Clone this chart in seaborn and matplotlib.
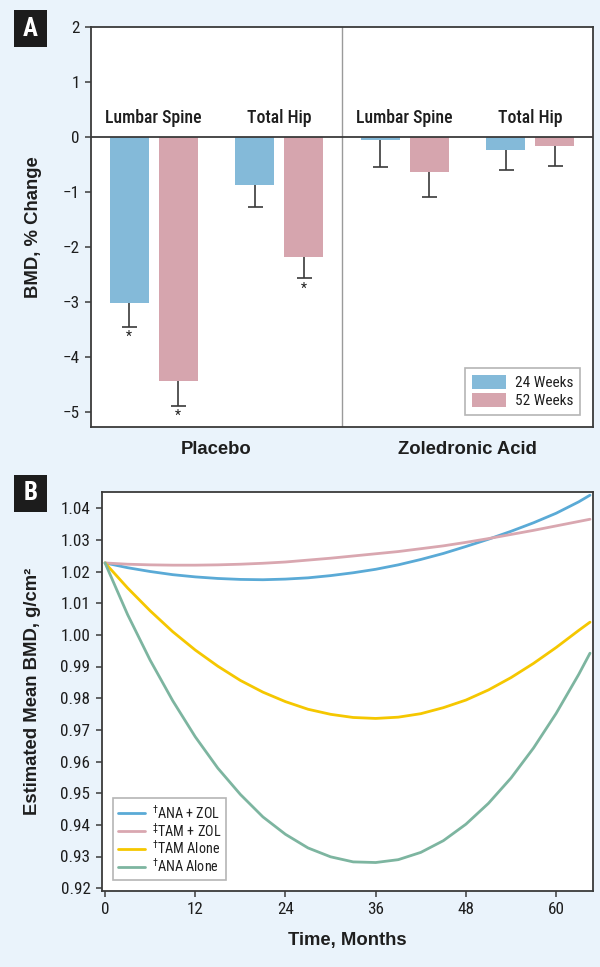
import numpy as np
import pandas as pd
import matplotlib
matplotlib.use("Agg")
import matplotlib.pyplot as plt
from matplotlib import font_manager as fm
from matplotlib.patches import Rectangle
import seaborn as sns

# ---------------- data: panel A ----------------
bar_keys = ["P-LS", "P-TH", "Z-LS", "Z-TH"]
sites = ["Lumbar Spine", "Total Hip", "Lumbar Spine", "Total Hip"]
groups = ["Placebo", "Zoledronic Acid"]
weeks = ["24 Weeks", "52 Weeks"]
change_24 = [-3.02, -0.87, -0.05, -0.24]
change_52 = [-4.44, -2.18, -0.64, -0.16]
err_24 = [0.43, 0.40, 0.50, 0.36]
err_52 = [0.44, 0.38, 0.45, 0.37]
sig_24 = [True, False, False, False]
sig_52 = [True, True, False, False]
yticks_A = [2, 1, 0, -1, -2, -3, -4, -5]

# ---------------- data: panel B ----------------
months = [0, 3, 6, 9, 12, 15, 18, 21, 24, 27, 30, 33, 36, 39, 42, 45, 48, 51, 54, 57, 60, 63, 64.5]
ana_zol = [1.0227, 1.0212, 1.0200, 1.0190, 1.0183, 1.0178, 1.0175, 1.0174, 1.0176, 1.0180, 1.0187, 1.0196,
           1.0207, 1.0221, 1.0238, 1.0257, 1.0279, 1.0302, 1.0327, 1.0354, 1.0384, 1.0420, 1.0441]
tam_zol = [1.0227, 1.0223, 1.0221, 1.0220, 1.0220, 1.0221, 1.0223, 1.0226, 1.0230, 1.0236, 1.0242, 1.0249,
           1.0256, 1.0263, 1.0272, 1.0281, 1.0292, 1.0304, 1.0317, 1.0330, 1.0344, 1.0358, 1.0365]
tam_alone = [1.0227, 1.0148, 1.0076, 1.0010, 0.9952, 0.9901, 0.9856, 0.9819, 0.9789, 0.9765, 0.9749, 0.9739,
             0.9736, 0.9740, 0.9751, 0.9770, 0.9794, 0.9826, 0.9865, 0.9910, 0.9960, 1.0014, 1.0040]
ana_alone = [1.0227, 1.0064, 0.9920, 0.9792, 0.9678, 0.9579, 0.9496, 0.9425, 0.9370, 0.9327, 0.9299, 0.9283,
             0.9281, 0.9290, 0.9313, 0.9350, 0.9402, 0.9468, 0.9548, 0.9643, 0.9752, 0.9875, 0.9942]
line_labels = [r"$^{\dagger}$ANA + ZOL", r"$^{\ddagger}$TAM + ZOL", r"$^{\dagger}$TAM Alone", r"$^{\dagger}$ANA Alone"]
xticks_B = [0, 12, 24, 36, 48, 60]
yticks_B = [0.92, 0.93, 0.94, 0.95, 0.96, 0.97, 0.98, 0.99, 1.00, 1.01, 1.02, 1.03, 1.04]

# ---------------- style ----------------
BG = "#eaf3fb"
BAR_BLUE = "#84bad9"
BAR_PINK = "#d6a5ae"
LINE_COLORS = ["#5aaad6", "#d9a7b0", "#f5c700", "#7db5a0"]
SPINE = "#3a3a3a"
TXT = "#1e1e1e"

sns.set_style("ticks")

# pick a condensed sans-serif if one is installed
_fonts = fm.fontManager.ttflist
_names = {f.name for f in _fonts}
family, stretch = None, "normal"
for n in ["Liberation Sans Narrow", "Roboto Condensed", "Noto Sans Condensed",
          "Open Sans Condensed", "Arial Narrow"]:
    if n in _names:
        family = [n, "DejaVu Sans"]
        break
if family is None:
    cond = sorted({f.name for f in _fonts if ("Condensed" in f.name or "Narrow" in f.name)
                   and "Mono" not in f.name and "Serif" not in f.name})
    if cond:
        family = [cond[0], "DejaVu Sans"]
if family is None:
    if any(f.name == "DejaVu Sans" and f.stretch in ("condensed", "semi-condensed") for f in _fonts):
        family, stretch = ["DejaVu Sans"], "condensed"
    else:
        family = ["Roboto", "DejaVu Sans"]

BOLD_FAMILY = ["Liberation Sans", "DejaVu Sans"]

plt.rcParams["font.family"] = family
plt.rcParams["font.stretch"] = stretch
plt.rcParams["mathtext.default"] = "regular"
plt.rcParams["text.color"] = TXT
plt.rcParams["axes.labelcolor"] = TXT

fig = plt.figure(figsize=(6, 9.67), dpi=100)
fig.patch.set_facecolor(BG)

axA = fig.add_axes([91 / 600, 1 - 427 / 967, 502 / 600, 400 / 967])
axB = fig.add_axes([101.5 / 600, 1 - 890.7 / 967, 491.5 / 600, 399 / 967])

BOLD = dict(fontsize=13.3, fontweight="bold", family=BOLD_FAMILY)


def style_axes(ax):
    ax.set_facecolor("white")
    for sp in ax.spines.values():
        sp.set_visible(True)
        sp.set_color(SPINE)
        sp.set_linewidth(1.3)
    ax.tick_params(direction="out", length=4.5, width=1.1, color=SPINE,
                   labelsize=12.3, labelcolor=TXT)


# ---------------- panel A ----------------
dfA = pd.DataFrame({
    "key": bar_keys * 2,
    "change": change_24 + change_52,
    "week": [weeks[0]] * 4 + [weeks[1]] * 4,
})
sns.barplot(data=dfA, x="key", y="change", hue="week", order=bar_keys, hue_order=weeks,
            palette=[BAR_BLUE, BAR_PINK], width=0.78, gap=0.205, errorbar=None,
            saturation=1, linewidth=0, ax=axA)
style_axes(axA)

for cont, errs, sigs in zip(axA.containers, [err_24, err_52], [sig_24, sig_52]):
    for bar, e, s in zip(cont, errs, sigs):
        xc = bar.get_x() + bar.get_width() / 2
        val = bar.get_y() + bar.get_height()
        _, caps, _ = axA.errorbar(xc, val, yerr=[[e], [0]], fmt="none", ecolor=SPINE,
                                  elinewidth=1.2, capsize=5.4, capthick=1.2, zorder=3)
        if len(caps) > 1:
            caps[1].set_visible(False)
        if s:
            axA.text(xc, val - e - 0.19, "*", ha="center", va="center", fontsize=10, color=TXT)

for i, s in enumerate(sites):
    axA.text(i, 0.35, s, ha="center", va="center", fontsize=12.8, fontweight="medium", color=TXT)

axA.axhline(0, color=SPINE, lw=1.3, zorder=4)
axA.axvline(1.5, color="#9a9a9a", lw=1.0)
axA.set_xlim(-0.5, 3.5)
axA.set_ylim(-5.27, 2)
axA.set_yticks(yticks_A)
axA.set_xticks([0.5, 2.5])
axA.set_xticklabels(groups, **BOLD)
axA.tick_params(axis="x", length=0, pad=10)
axA.set_xlabel("")
axA.set_ylabel("BMD, % Change", **BOLD)
axA.yaxis.set_label_coords(-0.098, 0.5)
axA.legend(loc="lower right", bbox_to_anchor=(0.974, 0.03), borderaxespad=0,
           frameon=True, fancybox=False, edgecolor="#b5b5b5", framealpha=1,
           fontsize=11, handlelength=2.2, handleheight=1.0, borderpad=0.45,
           labelspacing=0.2, handletextpad=0.6).get_frame().set_linewidth(1.2)

# ---------------- panel B ----------------
dfB = pd.DataFrame({
    "month": months * 4,
    "bmd": ana_zol + tam_zol + tam_alone + ana_alone,
    "group": sum([[lab] * len(months) for lab in line_labels], []),
})
sns.lineplot(data=dfB, x="month", y="bmd", hue="group", hue_order=line_labels,
             palette=LINE_COLORS, linewidth=2.0, ax=axB)
style_axes(axB)
axB.set_xlim(-0.47, 64.9)
axB.set_ylim(0.9192, 1.0452)
axB.set_xticks(xticks_B)
axB.set_yticks(yticks_B)
axB.set_yticklabels([f"{v:.2f}" for v in yticks_B])
axB.set_xlabel("Time, Months", labelpad=11, **BOLD)
axB.set_ylabel("Estimated Mean BMD, g/cm²", **BOLD)
axB.yaxis.set_label_coords(-0.124, 0.5)
h, l = axB.get_legend_handles_labels()
axB.legend(h, l, loc="lower left", bbox_to_anchor=(0.0234, 0.0268), borderaxespad=0,
           frameon=True, fancybox=False, edgecolor="#b5b5b5", framealpha=1,
           fontsize=10.2, handlelength=1.9, labelspacing=0.0, borderpad=0.35,
           handletextpad=0.5).get_frame().set_linewidth(1.2)


# ---------------- panel letters ----------------
def panel_label(x0, y0, letter):
    fig.add_artist(Rectangle((x0 / 600, 1 - (y0 + 37) / 967), 33 / 600, 37 / 967,
                             transform=fig.transFigure, facecolor="#1c1c1c", edgecolor="none"))
    fig.text((x0 + 16.5) / 600, 1 - (y0 + 18.5) / 967, letter, color="white",
             ha="center", va="center", fontsize=18, fontweight="bold")


panel_label(14, 10, "A")
panel_label(14, 475, "B")

fig.savefig("out.png", dpi=100, facecolor=BG)
